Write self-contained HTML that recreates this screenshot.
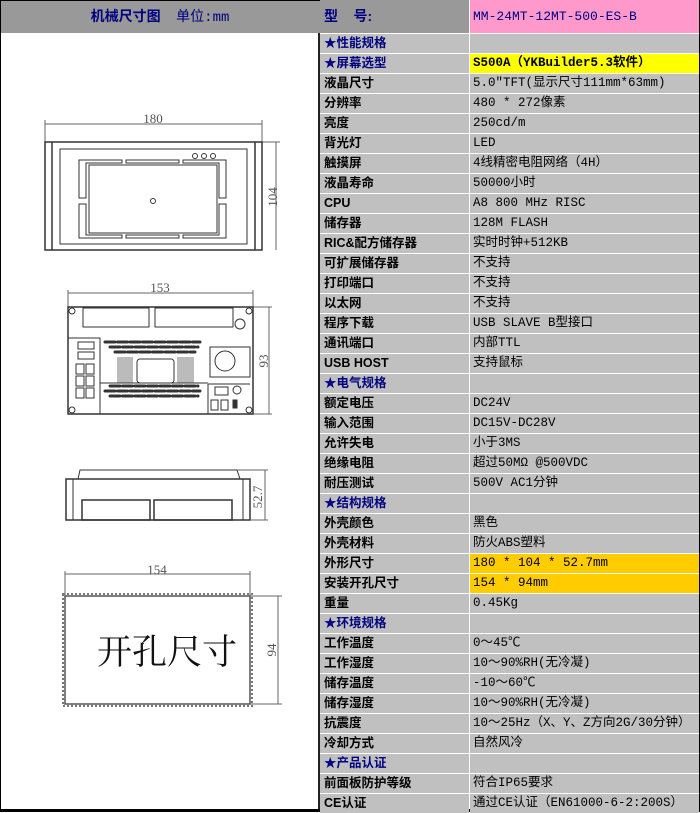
<!DOCTYPE html>
<html><head><meta charset="utf-8"><style>
*{margin:0;padding:0;box-sizing:border-box}
body{width:700px;height:812px;overflow:hidden;background:#fff;position:relative;font-family:"Liberation Sans","Noto Sans CJK SC",sans-serif}
.c{position:absolute;height:19px;background:#c0c0c0;font-size:12.5px;line-height:19px;white-space:nowrap;overflow:hidden}
.k{left:320px;width:149px;padding-left:4px;font-weight:bold;color:#000;font-family:"Liberation Sans","Noto Sans CJK SC",sans-serif}
.v{left:470px;width:229px;padding-left:3px;color:#000;font-family:"Liberation Mono","Noto Sans CJK SC",monospace;font-size:12.5px}
.s{color:#000080}
</style></head><body>
<div style="position:absolute;left:0;top:0;width:320px;height:33px;background:#999;border-left:1px solid #000;border-top:1px solid #000"></div>
<div style="position:absolute;left:0;top:6px;width:320px;text-align:center;font-size:14px;font-weight:bold;color:#000080;font-family:'Liberation Sans','Noto Sans CJK SC',sans-serif">机械尺寸图&nbsp;&nbsp;&nbsp;&nbsp;<span style="font-weight:normal;font-size:14px;font-family:'Liberation Mono','Noto Sans CJK SC',monospace">单位:mm</span></div>
<div style="position:absolute;left:318px;top:33px;width:2px;height:779px;background:#222"></div>
<div style="position:absolute;left:0;top:0;width:1px;height:812px;background:#000"></div>
<div style="position:absolute;left:0;top:809px;width:700px;height:3px;background:#000"></div>
<div style="position:absolute;left:699px;top:0;width:1px;height:812px;background:#000"></div>
<div style="position:absolute;left:320px;top:0;width:149px;height:33px;background:#999;padding-left:4px;font-weight:bold;color:#000080;font-size:14px;line-height:33px">型&nbsp;&nbsp;&nbsp;&nbsp;号:</div>
<div style="position:absolute;left:470px;top:0;width:229px;height:33px;background:#ff99cc;padding-left:3px;color:#000080;font-size:13px;line-height:33px;font-family:'Liberation Mono',monospace">MM-24MT-12MT-500-ES-B</div>
<div id="t"></div>
<svg style="position:absolute;left:0;top:0" width="320" height="812" fill="none" stroke="#333" stroke-width="1" font-family="Liberation Serif,serif">
<g>
<line x1="45" y1="124" x2="262" y2="124" stroke="#666"/><line x1="45" y1="120" x2="45" y2="142" stroke="#666"/><line x1="262" y1="120" x2="262" y2="142" stroke="#666"/>
<text x="153" y="123" font-size="13" fill="#555" stroke="none" text-anchor="middle">180</text>
<line x1="276" y1="142" x2="276" y2="250" stroke="#666"/><line x1="262" y1="142" x2="280" y2="142" stroke="#666"/>
<text transform="translate(277,197) rotate(-90)" font-size="13" fill="#555" stroke="none" text-anchor="middle">104</text>
<rect x="45" y="142" width="217" height="108" stroke-width="1.5"/>
<line x1="52" y1="142" x2="52" y2="250" stroke-width="1.5"/><line x1="255" y1="142" x2="255" y2="250" stroke-width="1.5"/>
<rect x="60" y="149" width="187" height="95"/>
<path d="M79 171 V198 H86 V163 H122 V160 H79 Z M126 160 H179 V163 H126 Z M183 160 H226 V198 H219 V163 H183 Z"/>
<path d="M79 204 V238 H122 V235 H86 V204 Z M126 235 H179 V238 H126 Z M183 235 H219 V204 H226 V238 H183 Z"/>
<rect x="89" y="165" width="128" height="68"/>
<circle cx="153" cy="201" r="2.5"/><circle cx="195" cy="156" r="2.5"/><circle cx="204" cy="156" r="2.5"/><circle cx="213" cy="156" r="2.5"/>
</g>
<g>
<line x1="68" y1="293" x2="253" y2="293" stroke="#666"/><line x1="68" y1="290" x2="68" y2="307" stroke="#666"/><line x1="253" y1="290" x2="253" y2="307" stroke="#666"/>
<text x="160" y="292" font-size="13" fill="#555" stroke="none" text-anchor="middle">153</text>
<line x1="269" y1="307" x2="269" y2="414" stroke="#666"/><line x1="253" y1="307" x2="272" y2="307" stroke="#666"/><line x1="253" y1="414" x2="272" y2="414" stroke="#666"/>
<text transform="translate(268,361) rotate(-90)" font-size="13" fill="#555" stroke="none" text-anchor="middle">93</text>
<rect x="68" y="307" width="185" height="107" stroke-width="1.5"/>
<rect x="83" y="308" width="66" height="19"/><rect x="155" y="308" width="78" height="19"/>
<circle cx="240" cy="324" r="5"/>
<circle cx="72" cy="311" r="3"/><circle cx="249" cy="311" r="3"/><circle cx="72" cy="410" r="3"/><circle cx="249" cy="410" r="3"/>
<path d="M68 338 H100 V414"/>
<rect x="78" y="342" width="16" height="7"/><rect x="78" y="352" width="16" height="7"/>
<rect x="76" y="364" width="8" height="10"/><rect x="86" y="364" width="8" height="10"/>
<rect x="76" y="376" width="8" height="10"/><rect x="86" y="376" width="8" height="10"/>
<rect x="76" y="388" width="8" height="10"/><rect x="86" y="388" width="8" height="10"/>
<path d="M105 342h95M110 347h88M115 352h80M110 386h88M105 391h95M110 396h88" stroke-dasharray="10 2.5" stroke-linecap="round" stroke-width="3"/>
<rect x="117" y="357" width="16" height="26" fill="#bbb" stroke="none"/><rect x="177" y="357" width="17" height="26" fill="#bbb" stroke="none"/>
<rect x="137" y="359" width="37" height="24" rx="3"/>
<line x1="100" y1="383" x2="208" y2="383"/>
<rect x="210" y="347" width="40" height="30"/><circle cx="225" cy="361" r="10"/>
<path d="M208 384 H250 M208 384 V414"/>
<rect x="215" y="387" width="13" height="8"/><circle cx="237" cy="390" r="4"/>
<rect x="211" y="400" width="7" height="10"/><rect x="221" y="400" width="7" height="10"/><rect x="233" y="400" width="4" height="8" fill="#333"/>
</g>
<g>
<path d="M78 479 L80 470 H237 L240 479"/>
<rect x="66" y="479" width="184" height="41" stroke-width="1.5"/>
<line x1="73" y1="479" x2="73" y2="520"/><line x1="243" y1="479" x2="243" y2="520"/>
<rect x="82" y="500" width="68" height="20" stroke-width="1.5"/><rect x="154" y="500" width="78" height="20" stroke-width="1.5"/>
<line x1="265" y1="470" x2="265" y2="520" stroke="#666"/><line x1="237" y1="470" x2="268" y2="470" stroke="#666"/><line x1="250" y1="520" x2="268" y2="520" stroke="#666"/>
<text transform="translate(262,497) rotate(-90)" font-size="13" fill="#555" stroke="none" text-anchor="middle">52.7</text>
</g>
<g>
<line x1="65" y1="574" x2="250" y2="574" stroke="#666"/><line x1="65" y1="571" x2="65" y2="596" stroke="#666"/><line x1="250" y1="571" x2="250" y2="596" stroke="#666"/>
<text x="157" y="574" font-size="13" fill="#555" stroke="none" text-anchor="middle">154</text>
<rect x="65" y="596" width="185" height="108" stroke="#555" stroke-width="1.5"/>
<rect x="63" y="594" width="189" height="112" stroke="#777" stroke-width="2" stroke-dasharray="2 2"/>
<line x1="278" y1="596" x2="278" y2="704" stroke="#666"/><line x1="250" y1="596" x2="282" y2="596" stroke="#666"/><line x1="250" y1="704" x2="282" y2="704" stroke="#666"/>
<text transform="translate(276,650) rotate(-90)" font-size="13" fill="#555" stroke="none" text-anchor="middle">94</text>
<text x="167" y="664" font-size="35" fill="#111" stroke="none" text-anchor="middle" font-family="Noto Serif CJK SC,serif">开孔尺寸</text>
</g>
</svg>
<script>
var R=[["★性能规格","",1],["★屏幕选型","S500A（YKBuilder5.3软件）",2],["液晶尺寸","5.0\"TFT(显示尺寸111mm*63mm)"],["分辨率","480 * 272像素"],["亮度","250cd/m"],["背光灯","LED"],["触摸屏","4线精密电阻网络（4H）"],["液晶寿命","50000小时"],["CPU","A8 800 MHz RISC"],["储存器","128M FLASH"],["RIC&配方储存器","实时时钟+512KB"],["可扩展储存器","不支持"],["打印端口","不支持"],["以太网","不支持"],["程序下载","USB SLAVE B型接口"],["通讯端口","内部TTL"],["USB HOST","支持鼠标"],["★电气规格","",1],["额定电压","DC24V"],["输入范围","DC15V-DC28V"],["允许失电","小于3MS"],["绝缘电阻","超过50MΩ @500VDC"],["耐压测试","500V AC1分钟"],["★结构规格","",1],["外壳颜色","黑色"],["外壳材料","防火ABS塑料"],["外形尺寸","180 * 104 * 52.7mm",3],["安装开孔尺寸","154 * 94mm",3],["重量","0.45Kg"],["★环境规格","",1],["工作温度","0～45℃"],["工作湿度","10～90%RH(无冷凝)"],["储存温度","-10～60℃"],["储存湿度","10～90%RH(无冷凝)"],["抗震度","10～25Hz（X、Y、Z方向2G/30分钟）"],["冷却方式","自然风冷"],["★产品认证","",1],["前面板防护等级","符合IP65要求"],["CE认证","通过CE认证（EN61000-6-2:200S）"]];
var h="";R.forEach(function(r,i){var t=34+i*20;var st=r[2]==1||r[2]==2?' s':'';
var vs=r[2]==2?'background:#ffff00;font-weight:bold;color:#000;':r[2]==3?'background:#ffcc00;':'';
h+='<div class="c k'+st+'" style="top:'+t+'px">'+r[0]+'</div><div class="c v" style="top:'+t+'px;'+vs+'">'+r[1].replace(/&/g,'&amp;')+'</div>';});
document.getElementById('t').innerHTML=h;
</script>
</body></html>
